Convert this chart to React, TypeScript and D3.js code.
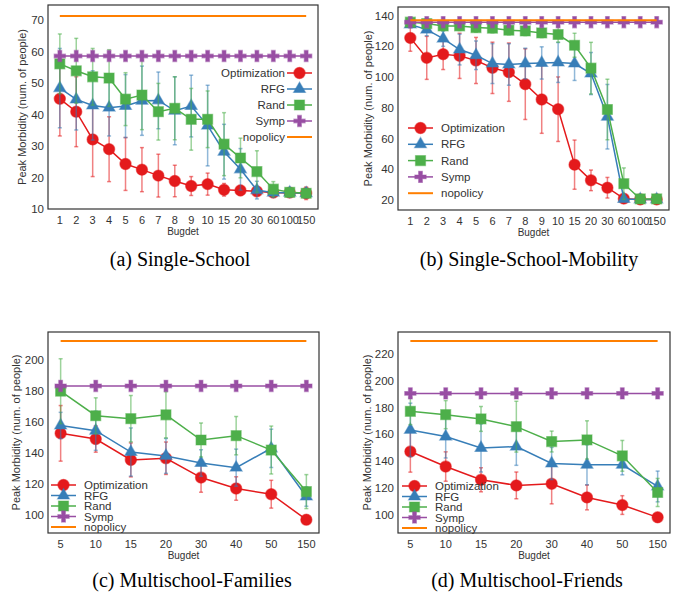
import React from 'react';
import * as d3 from 'd3';

// budgets
const budgetsSingle = ['1', '2', '3', '4', '5', '6', '7', '8', '9', '10', '15', '20', '30', '60', '100', '150'];
const budgetsMulti = ['5', '10', '15', '20', '30', '40', '50', '150'];

// (a) Single-School
const aOpt = [45.0, 40.9, 32.1, 29.0, 24.3, 22.5, 20.6, 18.9, 17.3, 17.9, 16.1, 15.9, 15.6, 15.2, 15.2, 15.0];
const aOptErr = [11.8, 11.1, 11.8, 10.3, 8.4, 7.0, 6.8, 5.0, 3.0, 3.5, 2.0, 1.6, 1.0, 1.5, 1.0, 2.0];
const aRfg = [48.4, 44.8, 42.9, 42.2, 42.7, 44.4, 44.5, 41.2, 42.7, 36.5, 28.2, 22.6, 16.0, 15.2, 15.2, 15.0];
const aRfgErr = [12.6, 9.7, 11, 9, 10, 11, 9, 10.8, 9.8, 12.8, 8.7, 6.6, 2.8, 1.5, 1.5, 1.5];
const aRand = [56.1, 53.9, 52.0, 51.6, 44.9, 46.2, 40.9, 42.0, 38.5, 38.5, 30.6, 26.2, 21.9, 16.3, 15.3, 15.0];
const aRandErr = [9.5, 10.3, 9, 9, 8.4, 11, 9, 10, 9.8, 9, 10, 6.3, 6.6, 2.4, 1, 1];
const aSymp = 58.6;
const aNopolicy = 71.3;

// (b) Single-School-Mobility
const bOpt = [125.5, 112.5, 114.9, 113.8, 110.8, 106, 103.2, 95.4, 85.4, 79.1, 43, 32.8, 28, 20.9, 20.4, 20.4];
const bOptErr = [8.7, 14, 10, 14.7, 15, 16.7, 19, 23, 22, 21, 16, 6.7, 6.7, 1, 0.5, 0.5];
const bRfg = [134.2, 130.9, 125, 117.9, 114.2, 108.8, 108.2, 108.8, 109.2, 109.5, 108.8, 102.3, 74.2, 20.7, 20.4, 20.4];
const bRfgErr = [2, 4, 5, 10, 9.3, 13, 13.5, 10, 10.5, 13, 11, 13.7, 21, 1, 0.5, 0.5];
const bRand = [135.7, 134.8, 133.3, 133.3, 132.2, 131.8, 130.5, 130, 128.7, 127.7, 120.7, 105.8, 78.9, 30.6, 20.7, 20.7];
const bRandErr = [2, 3, 3, 3, 3, 3, 3, 3, 3, 5, 7.8, 16.8, 19.7, 10.3, 0.5, 0.5];
const bSymp = 135.7;
const bNopolicy = 137;

// (c) Multischool-Families
const cOpt = [152.7, 149, 135.5, 136.6, 124.1, 117, 113.3, 96.8];
const cOptErr = [18, 8.5, 11, 10.5, 9.5, 7.6, 9, 1.5];
const cRfg = [157.8, 154.4, 140.6, 138.1, 133.5, 130.5, 143, 111.8];
const cRfgErr = [8.5, 12.7, 15.6, 11.3, 8.6, 12, 12.4, 6.3];
const cRand = [180, 164.1, 162.2, 164.7, 148.4, 151.2, 141.9, 115];
const cRandErr = [21, 11.6, 15, 15, 11, 12.4, 15.5, 11];
const cSymp = 183.4;
const cNopolicy = 212.5;

// (d) Multischool-Friends
const dOpt = [147.2, 136, 126.1, 121.9, 123.1, 112.9, 107.2, 98];
const dOptErr = [15.4, 11, 9, 10, 15, 9.3, 7, 3.5];
const dRfg = [163.4, 158.4, 149.9, 150.9, 138.3, 137.3, 137.3, 121.1];
const dRfgErr = [20, 16, 18, 14, 12, 15, 7.5, 11.5];
const dRand = [177.3, 174.8, 171.6, 165.8, 154.7, 155.9, 144, 116.6];
const dRandErr = [10, 10.5, 9.3, 19, 7.8, 14.3, 11.5, 10.5];
const dSymp = 190.7;
const dNopolicy = 229.9;

const seriesNames = ['Optimization', 'RFG', 'Rand', 'Symp', 'nopolicy'];
const colors = ['#e41a1c', '#377eb8', '#4daf4a', '#984ea3', '#ff7f00'];
const symbols = [d3.symbolCircle, d3.symbolTriangle, d3.symbolSquare, d3.symbolCross, null];
const symbolSizes = [100, 62, 100, 70, 0];

const sans = '"Liberation Sans", Arial, sans-serif';
const serif = '"Liberation Serif", "Times New Roman", serif';

type PanelProps = {
  x0: number; x1: number; y0: number; y1: number;
  cats: string[]; pad: number;
  domain: [number, number]; ticks: number[];
  opt: number[]; optErr: number[];
  rfg: number[]; rfgErr: number[];
  rand: number[]; randErr: number[];
  symp: number; nopolicy: number;
  ylabelX: number;
  legend: { x: number; y: number; dy: number; rightAligned: boolean; gap: number };
  caption: string; captionX: number; captionY: number;
};

function Marker({ i, x, y }: { i: number; x: number; y: number }) {
  const sym = symbols[i];
  if (!sym) return null;
  const d = d3.symbol().type(sym).size(symbolSizes[i])() as string;
  return <path d={d} transform={`translate(${x},${y})`} fill={colors[i]} stroke={colors[i]} strokeOpacity={0.5} strokeWidth={1.2} />;
}

function Panel(p: PanelProps) {
  const x = d3.scalePoint<string>().domain(p.cats).range([p.x0, p.x1]).padding(p.pad);
  const y = d3.scaleLinear().domain(p.domain).range([p.y1, p.y0]);
  const n = p.cats.length;
  const sympVals = p.cats.map(() => p.symp);
  const series = [
    { v: p.opt, e: p.optErr },
    { v: p.rfg, e: p.rfgErr },
    { v: p.rand, e: p.randErr },
    { v: sympVals, e: p.cats.map(() => 0) },
  ];
  const line = d3.line<number>().x((_, i) => x(p.cats[i]) as number).y(d => y(d));
  const xa = x(p.cats[0]) as number;
  const xb = x(p.cats[n - 1]) as number;
  const cx = (p.x0 + p.x1) / 2;
  const cy = (p.y0 + p.y1) / 2;

  return (
    <g>
      {/* y tick labels */}
      {p.ticks.map(t => (
        <text key={t} x={p.x0 - 4} y={y(t)} dy="0.35em" textAnchor="end" fontSize={11.5} fill="#333" fontFamily={sans}>{t}</text>
      ))}
      {/* x tick labels */}
      {p.cats.map(c => (
        <text key={c} x={x(c)} y={p.y1 + 15} textAnchor="middle" fontSize={11} fill="#333" fontFamily={sans}>{c}</text>
      ))}
      <text x={cx} y={p.y1 + 26} textAnchor="middle" fontSize={10} fill="#333" fontFamily={sans}>Bugdet</text>
      <text transform={`translate(${p.ylabelX},${cy}) rotate(-90)`} textAnchor="middle" dy="0.35em" fontSize={11} fill="#333" fontFamily={sans}>
        Peak Morbidity (num. of people)
      </text>

      {series.map((s, si) => (
        <g key={si}>
          {s.v.map((v, i) => s.e[i] > 0 ? (
            <g key={i} stroke={colors[si]} strokeOpacity={0.55} strokeWidth={1.5}>
              <line x1={x(p.cats[i])} x2={x(p.cats[i])} y1={y(v - s.e[i])} y2={y(v + s.e[i])} />
              <line x1={(x(p.cats[i]) as number) - 2} x2={(x(p.cats[i]) as number) + 2} y1={y(v - s.e[i])} y2={y(v - s.e[i])} />
              <line x1={(x(p.cats[i]) as number) - 2} x2={(x(p.cats[i]) as number) + 2} y1={y(v + s.e[i])} y2={y(v + s.e[i])} />
            </g>
          ) : null)}
          <path d={line(s.v) as string} fill="none" stroke={colors[si]} strokeWidth={1.5} />
          {s.v.map((v, i) => <Marker key={i} i={si} x={x(p.cats[i]) as number} y={y(v)} />)}
        </g>
      ))}
      <line x1={xa} x2={xb} y1={y(p.nopolicy)} y2={y(p.nopolicy)} stroke={colors[4]} strokeWidth={2} />

      {/* legend */}
      {seriesNames.map((name, i) => {
        const ly = p.legend.y + i * p.legend.dy;
        const lx = p.legend.x;
        const lineX0 = p.legend.rightAligned ? lx + p.legend.gap : lx;
        const lineX1 = lineX0 + 25;
        const tx = p.legend.rightAligned ? lx : lx + 25 + p.legend.gap;
        return (
          <g key={name}>
            <line x1={lineX0} x2={lineX1} y1={ly} y2={ly} stroke={colors[i]} strokeWidth={i === 4 ? 2 : 1.5} />
            <Marker i={i} x={(lineX0 + lineX1) / 2} y={ly} />
            <text x={tx} y={ly} dy="0.35em" textAnchor={p.legend.rightAligned ? 'end' : 'start'} fontSize={11.5} fill="#333" fontFamily={sans}>{name}</text>
          </g>
        );
      })}

      <rect x={p.x0} y={p.y0} width={p.x1 - p.x0} height={p.y1 - p.y0} fill="none" stroke="#333" strokeWidth={1.2} />
      <text x={p.captionX} y={p.captionY} textAnchor="middle" fontSize={20} fill="#000" fontFamily={serif}>{p.caption}</text>
    </g>
  );
}

export default function App() {
  return (
    <svg width={677} height={596} style={{ position: 'absolute', left: 0, top: 0, background: '#fff' }}>
      <Panel x0={48} x1={318} y0={5} y1={209} cats={budgetsSingle} pad={0.72}
        domain={[10, 74.8]} ticks={[10, 20, 30, 40, 50, 60, 70]}
        opt={aOpt} optErr={aOptErr} rfg={aRfg} rfgErr={aRfgErr} rand={aRand} randErr={aRandErr}
        symp={aSymp} nopolicy={aNopolicy} ylabelX={22}
        legend={{ x: 285, y: 73, dy: 16, rightAligned: true, gap: 2 }}
        caption="(a)  Single-School" captionX={180} captionY={266} />
      <Panel x0={398} x1={669} y0={7} y1={210} cats={budgetsSingle} pad={0.75}
        domain={[13.5, 145.6]} ticks={[20, 40, 60, 80, 100, 120, 140]}
        opt={bOpt} optErr={bOptErr} rfg={bRfg} rfgErr={bRfgErr} rand={bRand} randErr={bRandErr}
        symp={bSymp} nopolicy={bNopolicy} ylabelX={368}
        legend={{ x: 408, y: 128, dy: 16.3, rightAligned: false, gap: 8 }}
        caption="(b)  Single-School-Mobility" captionX={529} captionY={266} />
      <Panel x0={48} x1={319} y0={332} y1={533} cats={budgetsMulti} pad={0.36}
        domain={[88.2, 218.3]} ticks={[100, 120, 140, 160, 180, 200]}
        opt={cOpt} optErr={cOptErr} rfg={cRfg} rfgErr={cRfgErr} rand={cRand} randErr={cRandErr}
        symp={cSymp} nopolicy={cNopolicy} ylabelX={16}
        legend={{ x: 51, y: 485, dy: 10.5, rightAligned: false, gap: 8 }}
        caption="(c)  Multischool-Families" captionX={192} captionY={587} />
      <Panel x0={398} x1={670} y0={332} y1={533} cats={budgetsMulti} pad={0.35}
        domain={[86.3, 236.6]} ticks={[100, 120, 140, 160, 180, 200, 220]}
        opt={dOpt} optErr={dOptErr} rfg={dRfg} rfgErr={dRfgErr} rand={dRand} randErr={dRandErr}
        symp={dSymp} nopolicy={dNopolicy} ylabelX={367}
        legend={{ x: 402, y: 486, dy: 10.5, rightAligned: false, gap: 8 }}
        caption="(d)  Multischool-Friends" captionX={527} captionY={587} />
    </svg>
  );
}
